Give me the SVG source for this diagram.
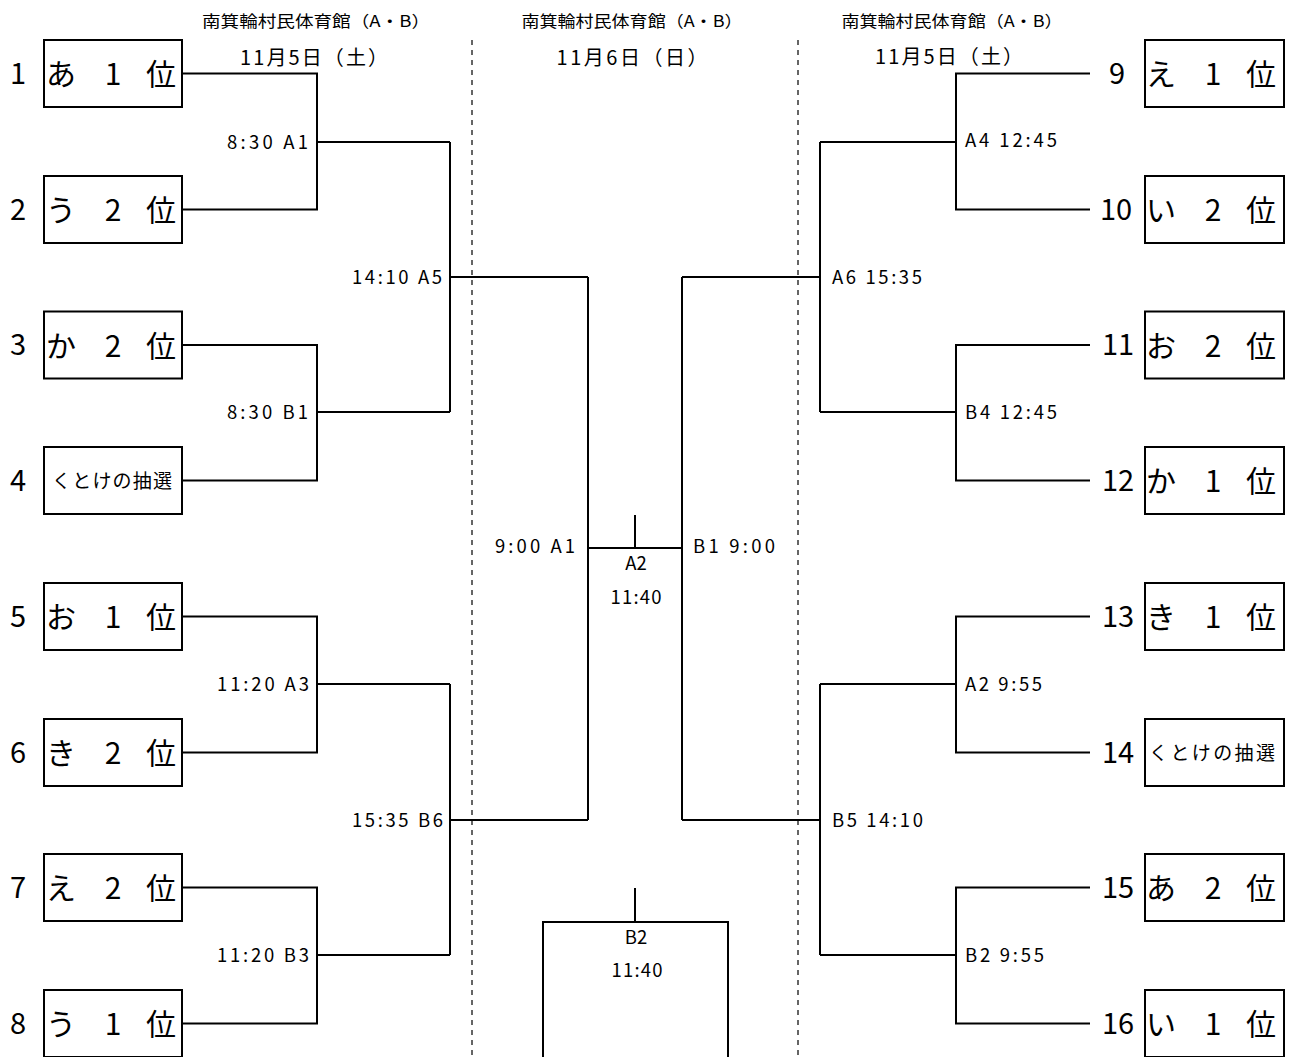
<svg xmlns="http://www.w3.org/2000/svg" width="1291" height="1057" viewBox="0 0 1291 1057">
<style>
text{font-family:"Noto Sans CJK JP","Noto Sans",sans-serif;fill:#000}
.box{fill:#fff;stroke:#000;stroke-width:2}
.bt{font-size:30px;text-anchor:middle}
.num{font-size:29px;text-anchor:middle}
.kt{font-size:19px}
.lab{font-size:18.5px}
.hd{font-size:16px;text-anchor:middle}
.dt{font-size:20px;text-anchor:middle}
.ln{fill:none;stroke:#000;stroke-width:2}
.dash{fill:none;stroke:#333;stroke-width:1.5;stroke-dasharray:5 5}
.e{text-anchor:end}
.m{text-anchor:middle}
</style>
<rect width="1291" height="1057" fill="#fff"/>
<g id="headers">
<text class="hd" x="316" y="27" textLength="228" lengthAdjust="spacingAndGlyphs">南箕輪村民体育館（A・B）</text>
<text class="hd" x="632" y="27" textLength="221" lengthAdjust="spacingAndGlyphs">南箕輪村民体育館（A・B）</text>
<text class="hd" x="952" y="27" textLength="221" lengthAdjust="spacingAndGlyphs">南箕輪村民体育館（A・B）</text>
<text class="dt" x="314" y="64.5" textLength="148" lengthAdjust="spacing">11月5日（土）</text>
<text class="dt" x="632" y="64.5" textLength="151" lengthAdjust="spacing">11月6日（日）</text>
<text class="dt" x="949" y="63.5" textLength="148" lengthAdjust="spacing">11月5日（土）</text>
</g>
<g id="dividers">
<line class="dash" x1="472" y1="40" x2="472" y2="1057"/>
<line class="dash" x1="798" y1="40" x2="798" y2="1057"/>
</g>
<g id="connectors">
<path class="ln" d="M182,73.5H317V209.5H182M317,142H450M182,345H317V480.5H182M317,412H450M450,142V412M450,277H588"/>
<path class="ln" d="M182,616.5H317V752.5H182M317,684H450M182,887.5H317V1023.5H182M317,955H450M450,684V955M450,820H588"/>
<path class="ln" d="M588,277V820M682,277V820M588,548H682M635,515V548"/>
<path class="ln" d="M1090,73.5H956V209.5H1090M956,142H820M1090,345H956V480.5H1090M956,412H820M820,142V412M820,277H682"/>
<path class="ln" d="M1090,616.5H956V752.5H1090M956,684H820M1090,887.5H956V1023.5H1090M956,955H820M820,684V955M820,820H682"/>
<path class="ln" d="M635,888V922M543,1057V922H728V1057"/>
</g>
<g id="match-labels">
<text class="lab e" x="308" y="148.5" textLength="81" lengthAdjust="spacing">8:30 A1</text>
<text class="lab e" x="308" y="418.5" textLength="81" lengthAdjust="spacing">8:30 B1</text>
<text class="lab e" x="309" y="690.5" textLength="92" lengthAdjust="spacing">11:20 A3</text>
<text class="lab e" x="309" y="961.5" textLength="92" lengthAdjust="spacing">11:20 B3</text>
<text class="lab e" x="442" y="283.5" textLength="90" lengthAdjust="spacing">14:10 A5</text>
<text class="lab e" x="443" y="826.5" textLength="91" lengthAdjust="spacing">15:35 B6</text>
<text class="lab" x="965" y="146.5" textLength="92" lengthAdjust="spacing">A4 12:45</text>
<text class="lab" x="965" y="418.5" textLength="92" lengthAdjust="spacing">B4 12:45</text>
<text class="lab" x="965" y="690.5" textLength="77" lengthAdjust="spacing">A2 9:55</text>
<text class="lab" x="965" y="961.5" textLength="79" lengthAdjust="spacing">B2 9:55</text>
<text class="lab" x="832" y="283.5" textLength="90" lengthAdjust="spacing">A6 15:35</text>
<text class="lab" x="832" y="826.5" textLength="91" lengthAdjust="spacing">B5 14:10</text>
<text class="lab e" x="575" y="552.5" textLength="80" lengthAdjust="spacing">9:00 A1</text>
<text class="lab" x="693" y="552.5" textLength="82" lengthAdjust="spacing">B1 9:00</text>
<text class="lab m" x="636" y="569.5">A2</text>
<text class="lab m" x="636" y="603.5" textLength="51" lengthAdjust="spacing">11:40</text>
<text class="lab m" x="636" y="943.5">B2</text>
<text class="lab m" x="637" y="976.5" textLength="51" lengthAdjust="spacing">11:40</text>
</g>
<g id="team1"><text class="num" x="18" y="83.5">1</text><rect class="box" x="44" y="40" width="138" height="67"/><text class="bt" x="61 87 113 137 161" y="85">あ 1 位</text></g>
<g id="team2"><text class="num" x="18" y="219.5">2</text><rect class="box" x="44" y="176" width="138" height="67"/><text class="bt" x="61 87 113 137 161" y="221">う 2 位</text></g>
<g id="team3"><text class="num" x="18" y="355">3</text><rect class="box" x="44" y="311.5" width="138" height="67"/><text class="bt" x="61 87 113 137 161" y="356.5">か 2 位</text></g>
<g id="team4"><text class="num" x="18" y="490.5">4</text><rect class="box" x="44" y="447" width="138" height="67"/><text class="kt" x="52" y="487.5" textLength="120" lengthAdjust="spacing">くとけの抽選</text></g>
<g id="team5"><text class="num" x="18" y="626.5">5</text><rect class="box" x="44" y="583" width="138" height="67"/><text class="bt" x="61 87 113 137 161" y="628">お 1 位</text></g>
<g id="team6"><text class="num" x="18" y="762.5">6</text><rect class="box" x="44" y="719" width="138" height="67"/><text class="bt" x="61 87 113 137 161" y="764">き 2 位</text></g>
<g id="team7"><text class="num" x="18" y="897.5">7</text><rect class="box" x="44" y="854" width="138" height="67"/><text class="bt" x="61 87 113 137 161" y="899">え 2 位</text></g>
<g id="team8"><text class="num" x="18" y="1033.5">8</text><rect class="box" x="44" y="990" width="138" height="67"/><text class="bt" x="61 87 113 137 161" y="1035">う 1 位</text></g>
<g id="team9"><text class="num" x="1117" y="83.5">9</text><rect class="box" x="1145" y="40" width="139" height="67"/><text class="bt" x="1161 1187 1213 1237 1261" y="85">え 1 位</text></g>
<g id="team10"><text class="num" x="1116" y="219.5">10</text><rect class="box" x="1145" y="176" width="139" height="67"/><text class="bt" x="1161 1187 1213 1237 1261" y="221">い 2 位</text></g>
<g id="team11"><text class="num" x="1118" y="355">11</text><rect class="box" x="1145" y="311.5" width="139" height="67"/><text class="bt" x="1161 1187 1213 1237 1261" y="356.5">お 2 位</text></g>
<g id="team12"><text class="num" x="1118" y="490.5">12</text><rect class="box" x="1145" y="447" width="139" height="67"/><text class="bt" x="1161 1187 1213 1237 1261" y="492">か 1 位</text></g>
<g id="team13"><text class="num" x="1118" y="626.5">13</text><rect class="box" x="1145" y="583" width="139" height="67"/><text class="bt" x="1161 1187 1213 1237 1261" y="628">き 1 位</text></g>
<g id="team14"><text class="num" x="1118" y="762.5">14</text><rect class="box" x="1145" y="719" width="139" height="67"/><text class="kt" x="1149" y="759.5" textLength="126" lengthAdjust="spacing">くとけの抽選</text></g>
<g id="team15"><text class="num" x="1118" y="897.5">15</text><rect class="box" x="1145" y="854" width="139" height="67"/><text class="bt" x="1161 1187 1213 1237 1261" y="899">あ 2 位</text></g>
<g id="team16"><text class="num" x="1118" y="1033.5">16</text><rect class="box" x="1145" y="990" width="139" height="67"/><text class="bt" x="1161 1187 1213 1237 1261" y="1035">い 1 位</text></g>
</svg>
